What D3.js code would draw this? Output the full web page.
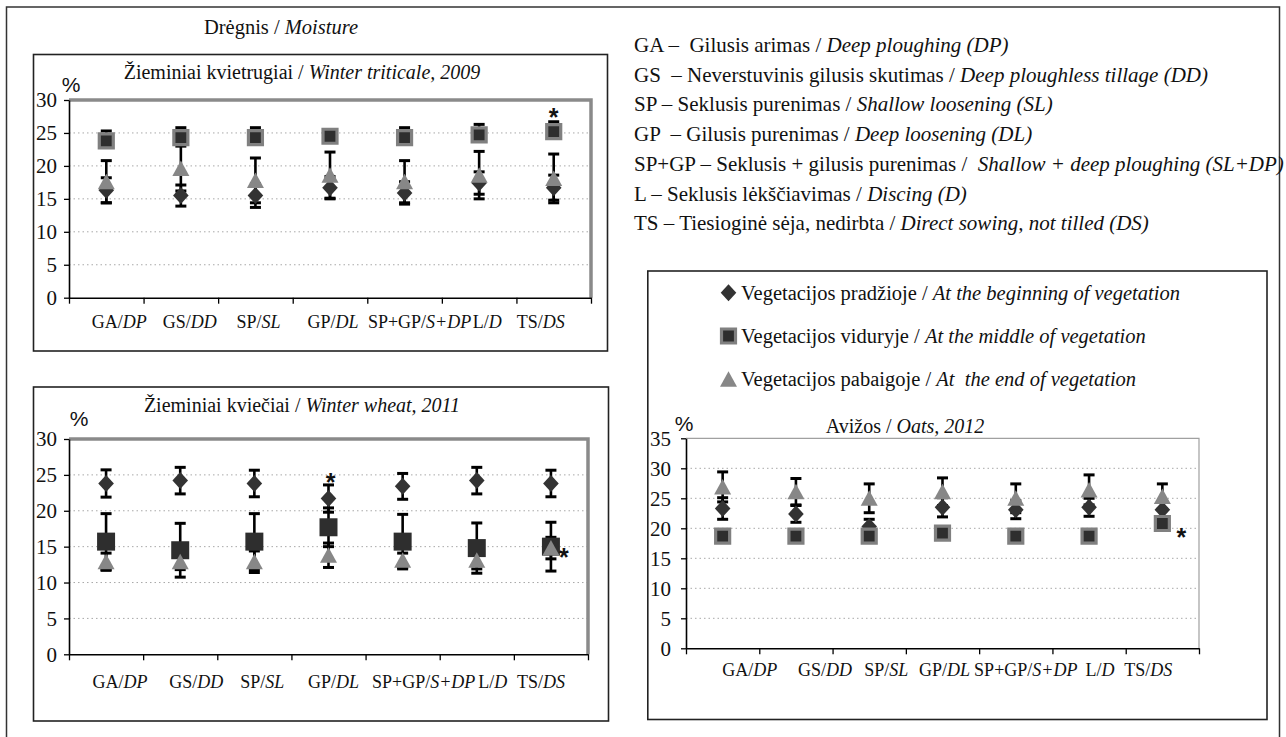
<!DOCTYPE html>
<html><head><meta charset="utf-8">
<script src="https://cdn.jsdelivr.net/npm/d3@7"></script>
<style>body{margin:0;background:#fff} svg{display:block} text{white-space:pre}
.serif{font-family:'Liberation Serif','Times New Roman','DejaVu Serif',serif}
.sans{font-family:'Liberation Sans',Arial,sans-serif}
</style>
</head><body>
<svg id="c" width="1286" height="737"></svg>
<script>
// ---------- DATA ----------
const catLt = ["GA/", "GS/", "SP/", "GP/", "SP+GP/", "L/", "TS/"];
const catEn = ["DP", "DD", "SL", "DL", "S+DP", "D", "DS"];
const yTicks30 = [0, 5, 10, 15, 20, 25, 30];
const yTicks35 = [0, 5, 10, 15, 20, 25, 30, 35];

// Winter triticale, 2009
const tritBegin    = [16.3, 15.5, 15.5, 16.7, 15.9, 17.4, 16.7];
const tritBeginErr = [1.9, 1.6, 1.8, 1.7, 1.7, 1.7, 1.9];
const tritMiddle   = [23.8, 24.3, 24.3, 24.5, 24.3, 24.7, 25.2];
const tritMiddleErrUp   = [1.5, 1.5, 1.5, 0.6, 1.5, 1.6, 1.5];
const tritMiddleErrDown = [0, 0, 0, 0, 0, 0, 0];
const tritEnd      = [17.6, 19.6, 17.8, 18.6, 17.6, 18.6, 18.1];
const tritEndErr   = [3.2, 3.4, 3.4, 3.5, 3.2, 3.6, 3.7];

// Winter wheat, 2011
const wheatBegin    = [23.8, 24.2, 23.8, 21.7, 23.4, 24.2, 23.8];
const wheatBeginErr = [1.9, 1.85, 1.85, 1.9, 1.8, 1.85, 1.85];
const wheatMiddle   = [15.7, 14.5, 15.7, 17.7, 15.7, 14.8, 15.0];
const wheatMiddleErr= [3.9, 3.75, 3.9, 2.7, 3.8, 3.5, 3.4];
const wheatEnd      = [12.9, 12.9, 12.9, 13.8, 13.1, 13.1, 14.8];
const wheatEndErr   = [1.2, 1.1, 1.5, 1.7, 1.0, 1.2, 1.5];

// Oats, 2012
const oatsBegin    = [23.3, 22.4, 20.3, 23.5, 23.1, 23.5, 23.1];
const oatsBeginErr = [1.8, 1.4, 1.2, 1.6, 1.5, 1.5, 1.3];
const oatsMiddle   = [18.7, 18.7, 18.7, 19.2, 18.7, 18.7, 20.8];
const oatsMiddleErr= [0.4, 0.4, 0.4, 0.4, 0.4, 0.4, 0.4];
const oatsEnd      = [26.9, 26.1, 25.0, 26.1, 25.0, 26.4, 25.3];
const oatsEndErr   = [2.5, 2.2, 2.4, 2.3, 2.4, 2.5, 2.1];

// significance asterisks: [category index, value]
const tritStars  = [[6, 28.2]];
const wheatStars = [[3, 24.7], [6, 14.3]];
const oatsStars  = [[6, 19.4]];

// texts
const mainTitleLt = "Drėgnis / ", mainTitleEn = "Moisture";
const titlesLt = ["Žieminiai kvietrugiai / ", "Žieminiai kviečiai / ", "Avižos / "];
const titlesEn = ["Winter triticale, 2009", "Winter wheat, 2011", "Oats, 2012"];
const abbrLt = ["GA –  Gilusis arimas / ", "GS  – Neverstuvinis gilusis skutimas / ", "SP – Seklusis purenimas / ",
  "GP  – Gilusis purenimas / ", "SP+GP – Seklusis + gilusis purenimas /  ", "L – Seklusis lėkščiavimas / ",
  "TS – Tiesioginė sėja, nedirbta / "];
const abbrEn = ["Deep ploughing (DP)", "Deep ploughless tillage (DD)", "Shallow loosening (SL)", "Deep loosening (DL)",
  "Shallow + deep ploughing (SL+DP)", "Discing (D)", "Direct sowing, not tilled (DS)"];
const legLt = ["Vegetacijos pradžioje / ", "Vegetacijos viduryje / ", "Vegetacijos pabaigoje / "];
const legEn = ["At the beginning of vegetation", "At the middle of vegetation", "At  the end of vegetation"];
const shapes = ["diamond", "square", "triangle"];

// ---------- DRAWING ----------
const svg = d3.select("#c");

const symDiamond = { draw(ctx, s) { const w = 7.8, h = 8.5; ctx.moveTo(0, -h); ctx.lineTo(w, 0); ctx.lineTo(0, h); ctx.lineTo(-w, 0); ctx.closePath(); } };
const symSquare = { draw(ctx, s) { const a = Math.sqrt(s) / 2; ctx.moveTo(-a, -a); ctx.lineTo(a, -a); ctx.lineTo(a, a); ctx.lineTo(-a, a); ctx.closePath(); } };
const symTriangle = { draw(ctx, s) { ctx.moveTo(0, -8); ctx.lineTo(8.5, 7.5); ctx.lineTo(-8.5, 7.5); ctx.closePath(); } };
const symbols = { diamond: symDiamond, square: symSquare, triangle: symTriangle };
function marker(g, shape, cx, cy, squareBorder) {
  const p = g.append("path").attr("transform", `translate(${cx},${cy})`);
  if (shape === "square") {
    if (squareBorder) p.attr("d", d3.symbol(symSquare, 196)()).attr("fill", "#2e2e2e").attr("stroke", "#808080").attr("stroke-width", 3.2);
    else p.attr("d", d3.symbol(symSquare, 324)()).attr("fill", "#2e2e2e");
  } else {
    p.attr("d", d3.symbol(symbols[shape])()).attr("fill", shape === "diamond" ? "#333" : "#878787");
  }
}
function mixed(g, x, y, lt, en, size, anchor) {
  const t = g.append("text").attr("class", "serif").attr("x", x).attr("y", y).attr("font-size", size)
    .attr("text-anchor", anchor || "start").attr("fill", "#111");
  t.append("tspan").text(lt);
  t.append("tspan").attr("font-style", "italic").text(en);
  return t;
}

// outer frame
svg.append("rect").attr("x", 6.5).attr("y", 7).attr("width", 1273).attr("height", 745)
  .attr("fill", "none").attr("stroke", "#333").attr("stroke-width", 1.5);
mixed(svg, 281, 34, mainTitleLt, mainTitleEn, 20.5, "middle");

// tillage abbreviation list
abbrLt.forEach((s, i) => mixed(svg, 634, 52 + i * 29.7, s, abbrEn[i], 21));

function drawPanel(cfg) {
  const g = svg.append("g");
  const [bx0, by0, bx1, by1] = cfg.box;
  g.append("rect").attr("x", bx0).attr("y", by0).attr("width", bx1 - bx0).attr("height", by1 - by0)
    .attr("fill", "none").attr("stroke", "#222").attr("stroke-width", 1.6);
  const { x0, x1, y0, y1 } = cfg.plot;
  const x = d3.scaleBand().domain(d3.range(catLt.length)).range([x0, x1]);
  const xEdge = d3.scaleLinear().domain([0, catLt.length]).range([x0, x1]);
  const y = d3.scaleLinear().domain([0, d3.max(cfg.ticks)]).range([y1, y0]);

  // gridlines
  g.append("g").selectAll("line").data(cfg.ticks.slice(1, -1)).join("line")
    .attr("x1", x0).attr("x2", x1).attr("y1", d => y(d)).attr("y2", d => y(d))
    .attr("stroke", "#a8a8a8").attr("stroke-width", 1).attr("stroke-dasharray", "1.5,3");
  // plot frame top/right
  g.append("path").attr("d", `M${x0},${y0}H${x1}V${y1}`).attr("fill", "none")
    .attr("stroke", cfg.frameColor).attr("stroke-width", cfg.frameWidth);

  // y axis
  const ya = g.append("g").attr("transform", `translate(${x0},0)`)
    .call(d3.axisLeft(y).tickValues(cfg.ticks).tickSize(5).tickSizeOuter(0).tickPadding(cfg.tickPad));
  ya.attr("font-family", null);
  ya.select(".domain").attr("stroke", "#000").attr("stroke-width", 1.6);
  ya.selectAll(".tick line").attr("stroke", "#000").attr("stroke-width", 1.3);
  ya.selectAll(".tick text").attr("class", "serif").attr("font-size", 21).attr("fill", "#111").attr("dy", "0.33em");

  // x axis with ticks at category boundaries
  const xa = g.append("g").attr("transform", `translate(0,${y1})`)
    .call(d3.axisBottom(xEdge).tickValues(d3.range(catLt.length + 1)).tickFormat("").tickSize(6).tickSizeOuter(0));
  xa.select(".domain").attr("stroke", "#000").attr("stroke-width", 1.6);
  xa.selectAll(".tick line").attr("stroke", "#000").attr("stroke-width", 1.3);

  // category labels (placed like the typed label line of the original)
  catLt.forEach((c, i) => mixed(g, x(i) + x.bandwidth() / 2 + cfg.labelShift[i], cfg.labelY, c, catEn[i], 18, "middle"));

  // titles
  mixed(g, cfg.titleX, cfg.titleY, cfg.titleLt, cfg.titleEn, 20, "middle");
  g.append("text").attr("class", "sans").attr("x", cfg.pct[0]).attr("y", cfg.pct[1]).attr("text-anchor", "middle")
    .attr("font-size", 21).attr("fill", "#111").text("%");

  // error bars
  const cx = i => x(i) + x.bandwidth() / 2;
  cfg.series.forEach(s => {
    s.values.forEach((v, i) => {
      const up = s.errUp[i], dn = s.errDown[i];
      const c = cx(i);
      g.append("line").attr("x1", c).attr("x2", c).attr("y1", y(v + up)).attr("y2", y(v - dn))
        .attr("stroke", "#000").attr("stroke-width", 2.6);
      [up > 0 ? v + up : null, dn > 0 ? v - dn : null].forEach(e => {
        if (e === null) return;
        g.append("line").attr("x1", c - 5.5).attr("x2", c + 5.5).attr("y1", y(e)).attr("y2", y(e))
          .attr("stroke", "#000").attr("stroke-width", 3);
      });
    });
  });
  // markers
  cfg.series.forEach(s => s.values.forEach((v, i) => marker(g, s.shape, cx(i), y(v), cfg.squareBorder)));
  // asterisks
  cfg.stars.forEach(([i, v], k) => {
    g.append("text").attr("class", "sans").attr("x", cx(i) + cfg.starDx[k]).attr("y", y(v) + 14).attr("text-anchor", "middle")
      .attr("font-weight", "bold").attr("font-size", 25).attr("fill", "#111").text("*");
  });
}

drawPanel({
  box: [33.5, 54.5, 607.5, 351], plot: { x0: 69, x1: 591, y0: 100, y1: 297.7 }, ticks: yTicks30, tickPad: 7,
  frameColor: "#8a8a8a", frameWidth: 3.5, labelShift: [13, 9, 3, 3, 15, 8, -13], labelY: 328,
  titleX: 302, titleY: 79, titleLt: titlesLt[0], titleEn: titlesEn[0], pct: [71, 92], squareBorder: true,
  series: [
    { shape: "diamond", values: tritBegin, errUp: tritBeginErr, errDown: tritBeginErr },
    { shape: "square", values: tritMiddle, errUp: tritMiddleErrUp, errDown: tritMiddleErrDown },
    { shape: "triangle", values: tritEnd, errUp: tritEndErr, errDown: tritEndErr }
  ],
  stars: tritStars, starDx: [0]
});

drawPanel({
  box: [33.5, 387, 608.5, 721], plot: { x0: 69, x1: 588, y0: 439, y1: 654.3 }, ticks: yTicks30, tickPad: 7,
  frameColor: "#8a8a8a", frameWidth: 3.5, labelShift: [14, 16, 8, 5, 21, 16, -10], labelY: 688,
  titleX: 302, titleY: 411.5, titleLt: titlesLt[1], titleEn: titlesEn[1], pct: [79, 426], squareBorder: false,
  series: [
    { shape: "diamond", values: wheatBegin, errUp: wheatBeginErr, errDown: wheatBeginErr },
    { shape: "square", values: wheatMiddle, errUp: wheatMiddleErr, errDown: wheatMiddleErr },
    { shape: "triangle", values: wheatEnd, errUp: wheatEndErr, errDown: wheatEndErr }
  ],
  stars: wheatStars, starDx: [2, 13]
});

drawPanel({
  box: [647.8, 271, 1267, 719.5], plot: { x0: 686, x1: 1199, y0: 438.3, y1: 648.3 }, ticks: yTicks35, tickPad: 10,
  frameColor: "#a0a0a0", frameWidth: 1.2, labelShift: [27, 29, 17, 2, 10, 11, -14], labelY: 675.5,
  titleX: 905, titleY: 433, titleLt: titlesLt[2], titleEn: titlesEn[2], pct: [684, 431], squareBorder: true,
  series: [
    { shape: "diamond", values: oatsBegin, errUp: oatsBeginErr, errDown: oatsBeginErr },
    { shape: "square", values: oatsMiddle, errUp: oatsMiddleErr, errDown: oatsMiddleErr },
    { shape: "triangle", values: oatsEnd, errUp: oatsEndErr, errDown: oatsEndErr }
  ],
  stars: oatsStars, starDx: [19]
});

// series legend (right panel)
const legY = d3.scalePoint().domain(d3.range(legLt.length)).range([292.7, 379.3]);
legLt.forEach((s, i) => {
  marker(svg, shapes[i], 728.5, legY(i), true);
  mixed(svg, 741, legY(i) + 6.8, s, legEn[i], 20.5);
});
</script>
</body></html>
